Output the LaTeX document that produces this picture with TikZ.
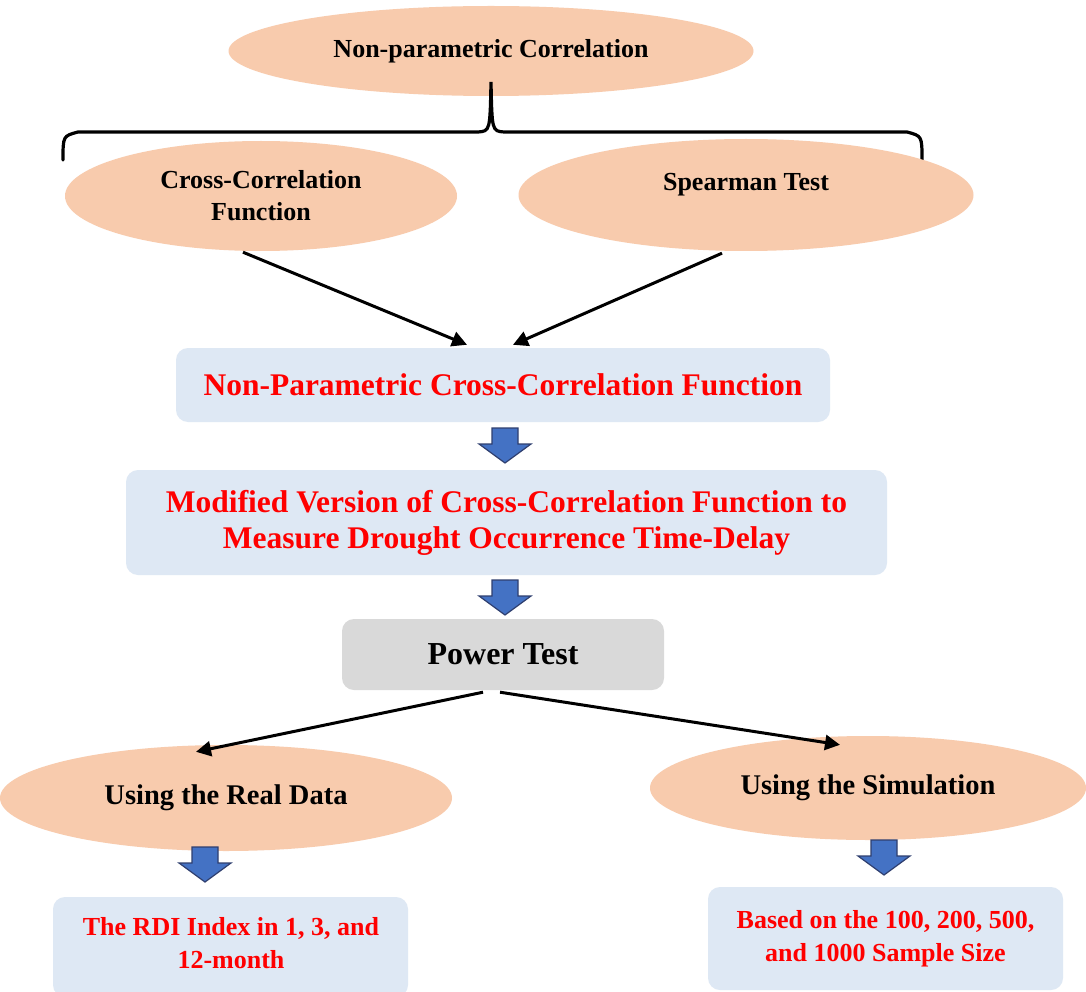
\documentclass[tikz,border=0pt]{standalone}
\usepackage{fontspec}
\setmainfont{Liberation Serif}
\usetikzlibrary{shapes.geometric,arrows.meta,calc}
\definecolor{peach}{HTML}{F8CBAD}
\definecolor{lightblue}{HTML}{DEE8F4}
\definecolor{boxgray}{HTML}{D9D9D9}
\definecolor{arrowblue}{HTML}{4472C4}
\definecolor{arrowdark}{HTML}{2F3F6F}
\definecolor{txtred}{HTML}{FF0000}
\tikzset{
  oval/.style={ellipse, fill=peach, draw=none, inner sep=0pt, align=center, font=\bfseries\fontsize{26}{32}\selectfont},
  bluebox/.style={rectangle, rounded corners=12pt, fill=lightblue, draw=none, inner sep=0pt, align=center, text=txtred, font=\bfseries\fontsize{31.5}{36}\selectfont},
  graybox/.style={rectangle, rounded corners=12pt, fill=boxgray, draw=none, inner sep=0pt, align=center, font=\bfseries\fontsize{32}{36}\selectfont},
  conn/.style={line width=3pt, -{Triangle[length=15pt,width=15pt]}},
  blockarrow/.pic={\filldraw[fill=arrowblue,draw=arrowdark,line width=1.2pt,line join=miter] (-13,0) -- (13,0) -- (13,16) -- (26,16) -- (0,35) -- (-26,16) -- (-13,16) -- cycle;}
}
\begin{document}
\begin{tikzpicture}[x=1pt,y=-1pt]
\useasboundingbox (0,0) rectangle (1086,992);
\clip (0,0) rectangle (1086,992);
\fill[white] (0,0) rectangle (1086,992);
% top
\node[oval, minimum width=525pt, minimum height=90pt] (top) at (491,51) {Non-parametric Correlation};
% brace
\coordinate (tip) at (491,82);
\draw[line width=3.2pt, line cap=round] (63,160) .. controls (63,136) .. (78,132) -- (478,132) .. controls (490,131) .. (tip) .. controls (492,131) .. (504,132) -- (907,132) .. controls (922,136) .. (922,160);
% second row
\node[oval, minimum width=392pt, minimum height=110pt] (cc) at (261,196) {Cross-Correlation\\Function};
\node[oval, minimum width=455pt, minimum height=112pt] (sp) at (746,195) {\raisebox{10pt}[\height][\depth]{Spearman Test}};
% np box
\node[bluebox, minimum width=654pt, minimum height=74pt] (np) at (503,385) {Non-Parametric Cross-Correlation Function};
\draw[conn] ($(cc.south)+(-18,1)$) -- ($(np.north)+(-36,-3)$);
\draw[conn] ($(sp.south)+(-24,2)$) -- ($(np.north)+(10,-3)$);
\pic at (505,428) {blockarrow};
\node[bluebox, minimum width=761pt, minimum height=105pt] (mod) at (506.5,522.5) {Modified Version of Cross-Correlation Function to\\Measure Drought Occurrence Time-Delay};
\pic at (505,580) {blockarrow};
\node[graybox, minimum width=322pt, minimum height=71pt] (pw) at (503,654.5) {Power Test};
% bottom ellipses
\node[oval, minimum width=452pt, minimum height=106pt, font=\bfseries\fontsize{28.5}{32}\selectfont] (real) at (226,798) {Using the Real Data};
\node[oval, minimum width=436pt, minimum height=104pt, font=\bfseries\fontsize{28.5}{32}\selectfont] (sim) at (868,788) {Using the Simulation};
\draw[conn] ($(pw.south)+(-20,2)$) -- ($(real.north)+(-30,7)$);
\draw[conn] ($(pw.south)+(-3,2)$) -- ($(sim.north)+(-28,9)$);
\pic at (205,847) {blockarrow};
\pic at (884,840) {blockarrow};
\node[bluebox, minimum width=355pt, minimum height=100pt] (rdi) at (230.5,947) {};
\node[text=txtred, align=center, inner sep=0pt, font=\bfseries\fontsize{26}{33}\selectfont] (rditxt) at (231,943) {The RDI Index in 1, 3, and\\12-month};
\node[bluebox, minimum width=355pt, minimum height=103pt, font=\bfseries\fontsize{26}{33}\selectfont] (bs) at (885.5,938.5) {Based on the 100, 200, 500,\\and 1000 Sample Size};
\end{tikzpicture}
\end{document}
